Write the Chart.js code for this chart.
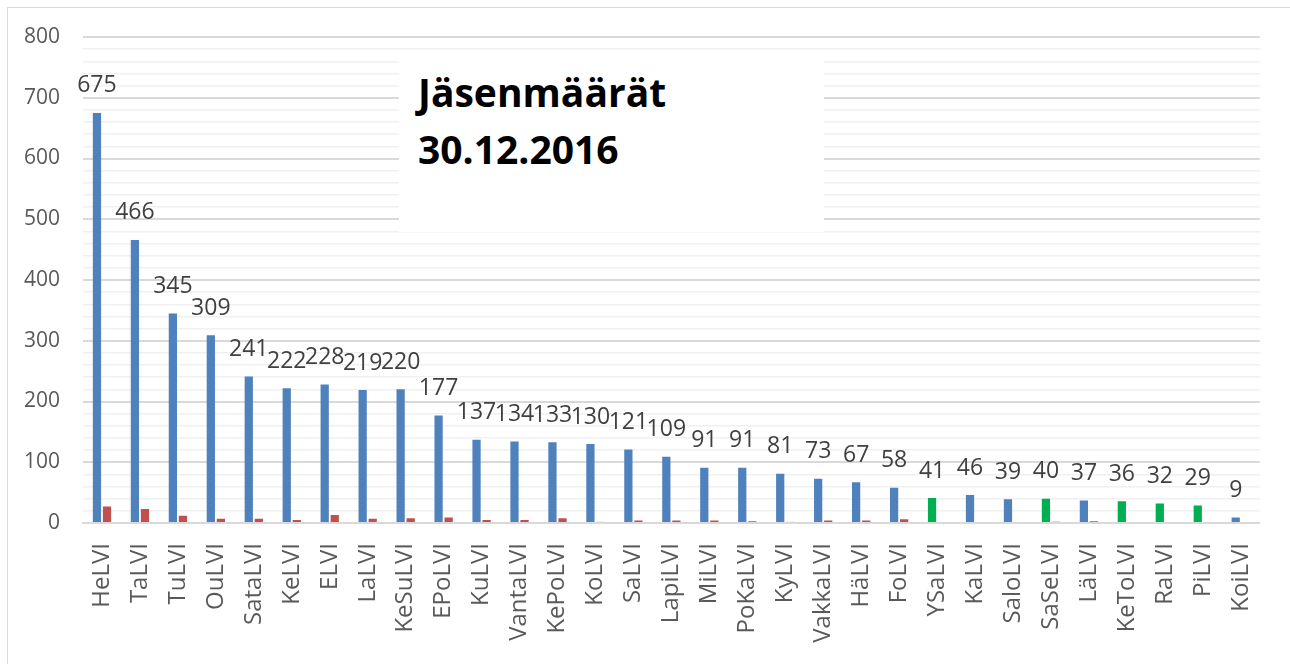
<!DOCTYPE html>
<html>
<head>
<meta charset="utf-8">
<script src="https://cdn.jsdelivr.net/npm/chart.js@4/dist/chart.umd.min.js"></script>
<style>
  body { margin: 0; background: #fff; overflow: hidden; }
  #wrap { position: relative; width: 1290px; height: 664px; }
  #frame { position: absolute; left: 7px; top: 7px; width: 1300px; height: 670px; border: 1px solid #d9d9d9; pointer-events: none; }
  #title {
    position: absolute; left: 399px; top: 55px; width: 425px; height: 177px;
    background: #fff; box-sizing: border-box; padding: 8px 0 0 19px;
    font-family: "Open Sans", sans-serif; font-weight: bold; font-size: 39px;
    line-height: 57px; color: #000;
  }
</style>
</head>
<body>
<div id="wrap">
  <canvas id="member_chart" width="1290" height="664"></canvas>
  <div id="title">Jäsenmäärät<br>30.12.2016</div>
  <div id="frame"></div>
</div>
<script>
const categories = [
  "HeLVI", "TaLVI", "TuLVI", "OuLVI", "SataLVI", "KeLVI", "ELVI", "LaLVI",
  "KeSuLVI", "EPoLVI", "KuLVI", "VantaLVI", "KePoLVI", "KoLVI", "SaLVI", "LapiLVI",
  "MiLVI", "PoKaLVI", "KyLVI", "VakkaLVI", "HäLVI", "FoLVI", "YSaLVI", "KaLVI",
  "SaloLVI", "SaSeLVI", "LäLVI", "KeToLVI", "RaLVI", "PiLVI", "KoiLVI"
];
const members = [
  675, 466, 345, 309, 241, 222, 228, 219,
  220, 177, 137, 134, 133, 130, 121, 109,
  91, 91, 81, 73, 67, 58, 41, 46,
  39, 40, 37, 36, 32, 29, 9
];
const students = [
  27, 23, 12, 7, 7, 5, 13, 7,
  8, 9, 5, 5, 8, 2, 4, 4,
  4, 3, 2, 4, 4, 6, 0, 0,
  0, 2, 3, 0, 0, 0, 0
];
const greenClubs = ["YSaLVI", "SaSeLVI", "KeToLVI", "RaLVI", "PiLVI"];
const paleClubs = ["KoLVI", "KyLVI"];

const blueColors = categories.map(c => greenClubs.includes(c) ? "#00b050" : "#4f81bd");
const redColors = categories.map(c => paleClubs.includes(c) ? "#e6b9b8" : "#c0504d");

// Values above the first series
const valueLabels = {
  id: "valueLabels",
  afterDatasetsDraw(chart) {
    const { ctx } = chart;
    const meta = chart.getDatasetMeta(0);
    ctx.save();
    ctx.font = "23px 'Open Sans', sans-serif";
    ctx.fillStyle = "#404040";
    ctx.textAlign = "center";
    ctx.textBaseline = "middle";
    meta.data.forEach((bar, i) => {
      ctx.fillText(String(members[i]), bar.x, bar.y - 27);
    });
    ctx.restore();
  }
};

new Chart(document.getElementById("member_chart").getContext("2d"), {
  type: "bar",
  data: {
    labels: categories,
    datasets: [
      { data: members, backgroundColor: blueColors },
      { data: students, backgroundColor: redColors }
    ]
  },
  options: {
    responsive: false,
    animation: false,
    categoryPercentage: 0.53,
    barPercentage: 0.82,
    layout: { padding: { top: 37, right: 28, left: 0, bottom: 0 } },
    plugins: { legend: { display: false }, tooltip: { enabled: false } },
    scales: {
      x: {
        grid: { display: false, drawTicks: false },
        border: { color: "#d9d9d9", width: 2 },
        ticks: {
          minRotation: 90, maxRotation: 90, padding: 20, autoSkip: false,
          color: "#595959", font: { family: "'Open Sans', sans-serif", size: 24 }
        },
        afterFit: s => { s.height = 141; }
      },
      y: {
        min: 0, max: 800,
        border: { display: false },
        grid: {
          drawTicks: false,
          color: c => c.tick.value % 100 === 0 ? "#d9d9d9" : "#f0f0f0",
          lineWidth: c => c.tick.value % 100 === 0 ? 2 : 1.5
        },
        ticks: {
          stepSize: 20, padding: 23, color: "#595959", autoSkip: false,
          font: { family: "'Open Sans', sans-serif", size: 21 },
          callback: v => v % 100 === 0 ? v : ""
        },
        afterFit: s => { s.width = 83; }
      }
    }
  },
  plugins: [valueLabels]
});
</script>
</body>
</html>
